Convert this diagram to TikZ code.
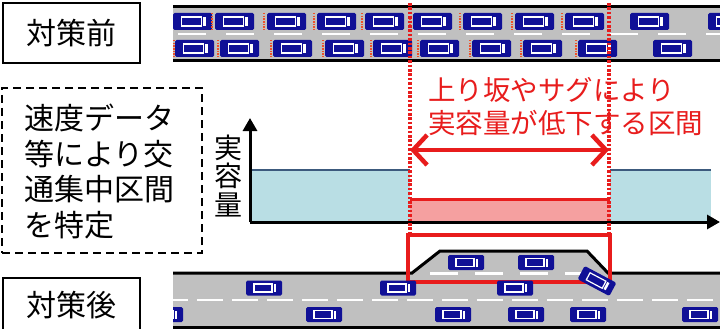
\documentclass[tikz,border=0pt]{standalone}
\usepackage{fontspec}
\newfontfamily\jp{Noto Sans CJK JP}
\usetikzlibrary{arrows.meta}
\definecolor{carblue}{RGB}{16,16,150}
\definecolor{roadgray}{RGB}{192,192,192}
\definecolor{capblue}{RGB}{185,222,228}
\definecolor{capline}{RGB}{60,90,125}
\definecolor{capred}{RGB}{245,160,160}
\definecolor{alertred}{RGB}{232,28,28}
\definecolor{brakered}{RGB}{240,80,40}
\tikzset{
  car/.pic={
    \fill[carblue, rounded corners=1.5pt] (-19.5,-8.5) rectangle (19.5,8.5);
    \draw[white, line width=1.3pt] (-11,-4.5) rectangle (9,4.5);
    \fill[white] (10.5,-4.5) rectangle (13,4.5);
  },
  smallcar/.pic={
    \fill[carblue, rounded corners=1.5pt] (-18,-7.5) rectangle (18,7.5);
    \draw[white, line width=1.2pt] (-10,-4) rectangle (8,4);
    \fill[white] (9.5,-4) rectangle (12,4);
  },
  brake/.style={brakered, line width=1.6pt, dash pattern=on 1.5pt off 1.2pt},
  roadedge/.style={black, line width=3pt},
  lanemark/.style={white, line width=2.5pt},
  labelbox/.style={draw, line width=2.2pt, minimum width=137pt, minimum height=60pt, inner sep=0pt},
  jptext/.style={font={\jp\fontsize{30}{35.5}\selectfont}, inner sep=0pt},
  redtext/.style={font={\jp\fontsize{27.5}{33}\selectfont}, text=alertred, inner sep=0pt},
  section/.style={alertred, line width=3.2pt, dash pattern=on 2.6pt off 1.8pt},
}
\begin{document}
\begin{tikzpicture}[x=1pt,y=-1pt]
\useasboundingbox[fill=white] (0,0) rectangle (720,329);

% ---------- road before the measure ----------
\fill[roadgray] (173,7) rectangle (720,61);
\draw[roadedge] (173,7) -- (720,7);
\draw[roadedge] (173,61) -- (720,61);
\draw[lanemark, dash pattern=on 28pt off 20pt] (178,34) -- (720,34);
\begin{scope}
  \clip (173,8.5) rectangle (720,59.5);
  \foreach \x in {192.5,234.5,286.5,336.5,384.5,432.5,482.5,534.5,584.5,649.5,727.5}
    \pic at (\x,21.5) {car};
  \foreach \x in {194.5,239.5,292.5,344.5,392.5,439.5,491.5,542.5,597.5,672.5}
    \pic at (\x,48.5) {car};
  \foreach \x in {212,264,314,362,410,460,512,562}
    \draw[brake] (\x,13) -- (\x,30);
  \foreach \x in {174,218,271,323,371,418,470,521,576}
    \draw[brake] (\x,40) -- (\x,57);
\end{scope}

% ---------- labels ----------
\node[labelbox] (before) at (71.5,33) {};
\node[jptext] at (before) {対策前};

\node[draw, line width=2pt, dash pattern=on 8pt off 5pt, minimum width=200pt,
      minimum height=165pt, inner sep=0pt] (note) at (102,170.5) {};
\node[jptext, align=left, anchor=west] (notetext) at (24,171.5)
  {速度データ\\等により交\\通集中区間\\を特定};

% ---------- capacity chart ----------
\fill[capblue] (251,170) rectangle (410,221);
\fill[capblue] (610,170) rectangle (711,221);
\draw[capline, line width=2.5pt] (251,170) -- (410,170);
\draw[capline, line width=2.5pt] (610,170) -- (711,170);
\fill[capred] (410,199) rectangle (610,221);
\draw[alertred, line width=3pt] (410,199) -- (610,199);

\coordinate (O) at (250,222);
\coordinate (ytip) at (250,118);
\coordinate (xtip) at (720,222);
\draw[line width=3pt, -{Triangle[length=13pt,width=14pt]}] (O) -- (ytip);
\draw[line width=3pt, -{Triangle[length=13pt,width=14pt]}] (O) -- (xtip);
\node[font={\jp\fontsize{28}{28.5}\selectfont}, align=center, inner sep=0pt] (ylabel) at (228,176)
  {実\\容\\量};

% ---------- road after the measure ----------
\fill[roadgray] (173,273) rectangle (720,329);
\fill[roadgray] (412,273) -- (440,251) -- (587,251) -- (610,273) -- cycle;
\draw[roadedge] (173,273) -- (412,273) -- (440,251) -- (587,251) -- (608,273) -- (720,273);
\draw[roadedge] (173,327.5) -- (720,327.5);
\draw[lanemark, dash pattern=on 26pt off 9pt, dash phase=11pt] (173,300) -- (720,300);
\draw[lanemark, dash pattern=on 28pt off 17pt] (430,273.5) -- (595,273.5);

% section where capacity drops
\coordinate (secL) at (410,3);
\coordinate (secR) at (609,3);
\coordinate (boxL) at (410,235);
\coordinate (boxR) at (609,235);
\draw[section] (secL) -- (boxL);
\draw[section] (secR) -- (boxR);
\node[draw=alertred, line width=3.5pt, minimum width=202pt, minimum height=47pt,
      inner sep=0pt] (lane) at (509,258.5) {};
\coordinate (arrL) at (410,150);
\coordinate (arrR) at (609,150);
\draw[alertred, line width=4.5pt, {Straight Barb[length=14pt,width=30pt]}-{Straight Barb[length=14pt,width=30pt]}]
  (arrL) -- (arrR);
\node[redtext, align=left, anchor=west] (cause) at (428,106.5)
  {上り坂やサグにより\\実容量が低下する区間};

\begin{scope}
  \clip (173,240) rectangle (720,326);
  \foreach \x in {466,536}
    \pic at (\x,262.5) {smallcar};
  \foreach \x in {264,398,515}
    \pic at (\x,288) {smallcar};
  \foreach \x in {165,324,453,526,588,700}
    \pic at (\x,314.5) {smallcar};
\end{scope}
\pic[rotate=-28] at (597,281) {smallcar};

\node[labelbox] (after) at (71.5,308) {};
\node[jptext] at (71.5,305) {対策後};
\end{tikzpicture}
\end{document}
